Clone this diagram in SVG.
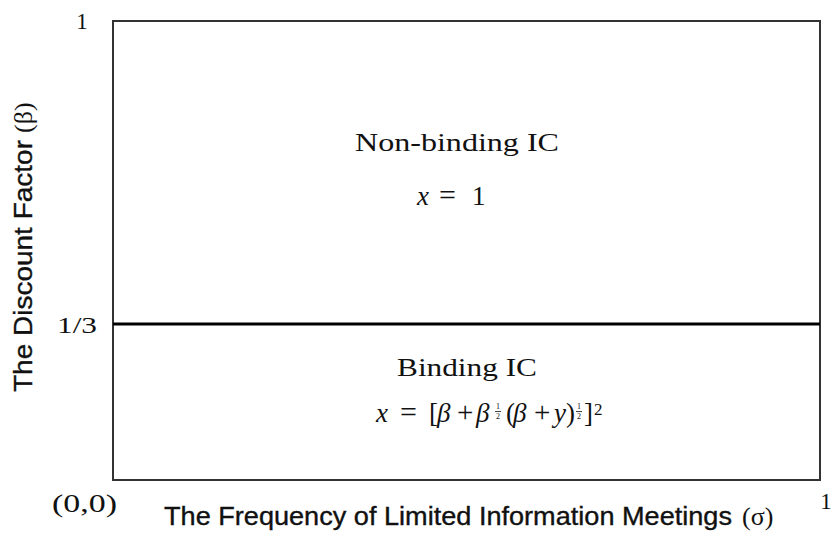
<svg xmlns="http://www.w3.org/2000/svg" width="832" height="533" viewBox="0 0 832 533">
<style>
.serif{font-family:"Liberation Serif","DejaVu Serif",serif;fill:#111}
.sans{font-family:"Liberation Sans",Arial,sans-serif;fill:#111;stroke:#111;stroke-width:0.35}
.it{font-style:italic}
.frac{font-family:"Liberation Serif","DejaVu Serif",serif;font-size:8px;fill:#111;text-anchor:middle}
</style>
<rect width="832" height="533" fill="#fff"/>
<g id="frame">
<rect x="113" y="21" width="707" height="459" fill="none" stroke="#333" stroke-width="2"/>
</g>
<g id="connectors">
<line x1="113" y1="324" x2="820" y2="324" stroke="#000" stroke-width="3"/>
</g>
<g id="ticks">
<text class="serif" x="82" y="29" font-size="23" text-anchor="middle">1</text>
<text class="serif" x="57" y="333" font-size="23" textLength="40" lengthAdjust="spacingAndGlyphs">1/3</text>
<text class="serif" x="52" y="512" font-size="25" textLength="65" lengthAdjust="spacingAndGlyphs">(0,0)</text>
<text class="serif" x="826" y="509" font-size="23" text-anchor="middle">1</text>
</g>
<g id="axis-labels">
<text class="sans" x="164" y="525" font-size="25" textLength="568" lengthAdjust="spacingAndGlyphs">The Frequency of Limited Information Meetings</text>
<text class="serif" x="742" y="525" font-size="26">(σ)</text>
<text class="sans" transform="translate(32,392) rotate(-90)" font-size="25" textLength="252" lengthAdjust="spacingAndGlyphs">The Discount Factor</text>
<text class="serif" transform="translate(32,133) rotate(-90)" font-size="26">(β)</text>
</g>
<g id="nonbinding">
<text class="serif" x="355" y="151" font-size="25" textLength="204" lengthAdjust="spacingAndGlyphs">Non-binding IC</text>
<text class="serif" y="205" font-size="27"><tspan class="it" x="417">x</tspan><tspan x="439" font-size="30">=</tspan><tspan x="472">1</tspan></text>
</g>
<g id="binding">
<text class="serif" x="397" y="376" font-size="25" textLength="140" lengthAdjust="spacingAndGlyphs">Binding IC</text>
<text class="serif" y="422" font-size="27"><tspan class="it" x="376">x</tspan><tspan x="400" font-size="30">=</tspan><tspan x="429">[</tspan><tspan class="it" x="437">β</tspan><tspan x="457" font-size="29">+</tspan><tspan class="it" x="476">β</tspan></text>
<text class="frac" x="498" y="409">1</text>
<text class="frac" x="498" y="419">2</text>
<line x1="495" y1="411.5" x2="501" y2="411.5" stroke="#111" stroke-width="0.8"/>
<text class="serif" y="422" font-size="27"><tspan x="506">(</tspan><tspan class="it" x="513">β</tspan><tspan x="534" font-size="29">+</tspan><tspan class="it" x="554">y</tspan><tspan x="566">)</tspan></text>
<text class="frac" x="579" y="409">1</text>
<text class="frac" x="579" y="419">2</text>
<line x1="576" y1="411.5" x2="582" y2="411.5" stroke="#111" stroke-width="0.8"/>
<text class="serif" x="584" y="422" font-size="27">]</text>
<text class="serif" x="594" y="415" font-size="17">2</text>
</g>
</svg>
